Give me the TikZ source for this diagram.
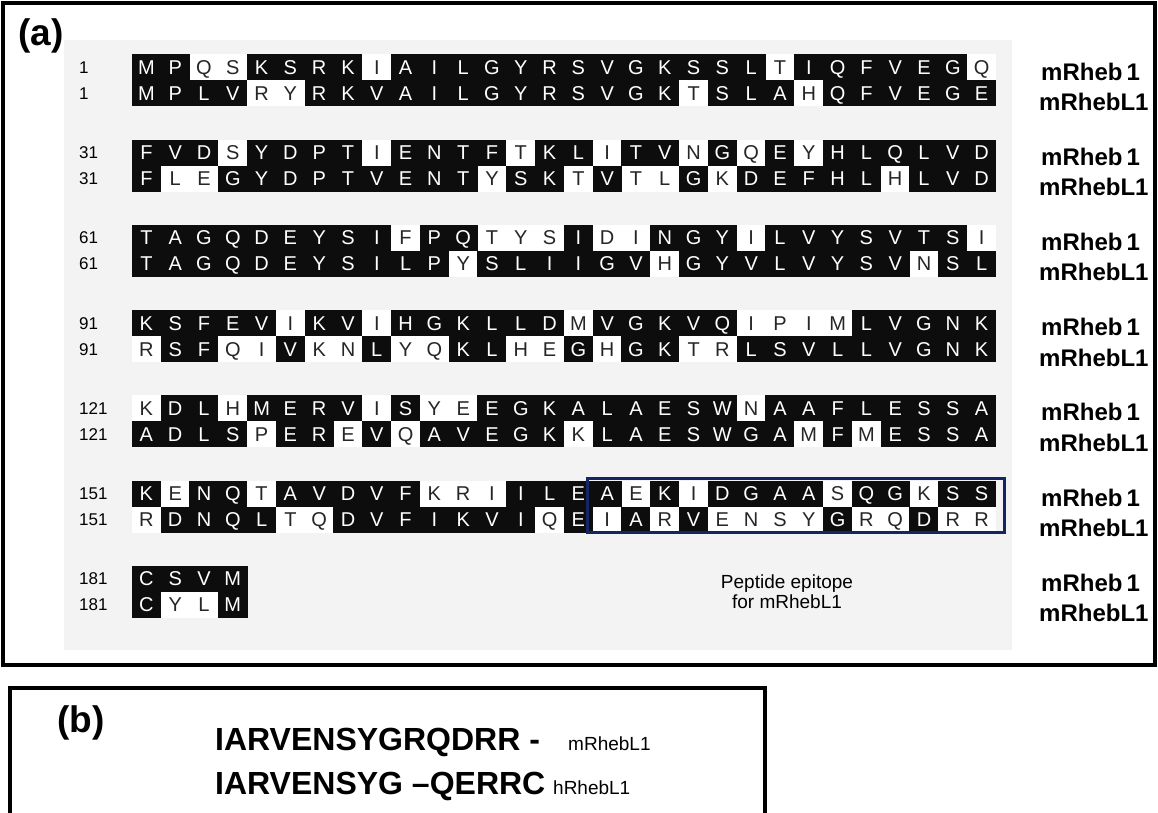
\documentclass[tikz,border=0pt]{standalone}
\usepackage{fontspec}
\setmainfont{Liberation Sans}
\usetikzlibrary{positioning}
\definecolor{epiblue}{RGB}{18,38,100}
\definecolor{scan}{RGB}{243,243,243}

% one line of the alignment at height #1, residues in #2 (lower case = not shaded)
\newcommand{\seqline}[2]{%
  \foreach \ch [count=\idx] in {#2} {%
    \expandafter\ifnum\expandafter`\ch<97
      \fill[black!95] ({132+(\idx-1)*28.8-0.3},{#1-13}) rectangle ++(29.4,26);
      \node[res,white] at ({132+(\idx-0.5)*28.8},#1) {\ch};
    \else
      \fill[white] ({132+(\idx-1)*28.8},{#1-13}) rectangle ++(28.8,26);
      \node[res,black!85] at ({132+(\idx-0.5)*28.8},#1) {\uppercase\expandafter{\ch}};
    \fi
  }}

\begin{document}
\begin{tikzpicture}[x=1pt,y=-1pt,
  res/.style={inner sep=0pt,text height=14pt,text depth=0pt,font=\fontsize{20}{20}\selectfont},
  num/.style={anchor=west,inner sep=0pt,text height=12pt,text depth=0pt,font=\fontsize{17}{17}\selectfont},
  seqname/.style={anchor=west,inner sep=0pt,font=\fontsize{24}{24}\selectfont\bfseries},
  panel/.style={font=\fontsize{37}{37}\selectfont\bfseries,inner sep=0pt},
  pep/.style={font=\fontsize{32}{32}\selectfont\bfseries,anchor=west,inner sep=0pt},
  pepname/.style={font=\fontsize{19}{19}\selectfont,anchor=west,inner sep=0pt}]
\useasboundingbox (0,0) rectangle (1158,813);
\fill[white] (0,0) rectangle (1158,813);

% panel (a)
\draw[line width=4pt] (3,3) rectangle (1155,665);
\fill[scan] (64,40) rectangle (1012,650);
\node[panel] (pa) at (41,36) {(a)};

\seqline{67.5}{M,P,q,s,K,S,R,K,i,A,I,L,G,Y,R,S,V,G,K,S,S,L,t,I,Q,F,V,E,G,q}
\seqline{93.5}{M,P,L,V,r,y,R,K,V,A,I,L,G,Y,R,S,V,G,K,t,S,L,A,h,Q,F,V,E,G,E}
\seqline{152.7}{F,V,D,s,Y,D,P,T,i,E,N,T,F,t,K,L,i,T,V,n,G,q,E,y,H,L,Q,L,V,D}
\seqline{178.7}{F,l,e,G,Y,D,P,T,V,E,N,T,y,S,K,t,V,t,l,G,k,D,E,F,H,L,h,L,V,D}
\seqline{237.9}{T,A,G,Q,D,E,Y,S,I,f,P,Q,t,y,s,I,d,i,N,G,Y,i,L,V,Y,S,V,T,S,i}
\seqline{263.9}{T,A,G,Q,D,E,Y,S,I,L,P,y,S,L,I,I,G,V,h,G,Y,V,L,V,Y,S,V,n,S,L}
\seqline{323.1}{K,S,F,E,V,i,K,V,i,H,G,K,L,L,D,m,V,G,K,V,Q,i,p,i,m,L,V,G,N,K}
\seqline{349.1}{r,S,F,q,i,V,k,n,L,y,q,K,L,h,e,G,h,G,K,t,r,L,S,V,L,L,V,G,N,K}
\seqline{408.3}{k,D,L,h,M,E,R,V,i,S,y,e,E,G,K,A,L,A,E,S,W,n,A,A,F,L,E,S,S,A}
\seqline{434.3}{A,D,L,S,p,E,R,e,V,q,A,V,E,G,K,k,L,A,E,S,W,G,A,m,F,m,E,S,S,A}
\seqline{493.5}{K,e,N,Q,t,A,V,D,V,F,k,r,i,I,L,E,A,e,K,i,D,G,A,A,s,Q,G,k,S,S}
\seqline{519.5}{r,D,N,Q,L,t,q,D,V,F,I,K,V,I,q,E,i,A,r,V,e,n,s,y,G,r,q,D,r,r}
\seqline{578.7}{C,S,V,M}
\seqline{604.7}{C,y,l,M}

\foreach \n/\k in {1/0,31/1,61/2,91/3,121/4,151/5,181/6} {
  \node[num] (na\k) at (79,{67.5+85.2*\k}) {\n};
  \node[num] (nb\k) at (79,{93.5+85.2*\k}) {\n};
  \node[seqname] (la\k) at (1041,{71.5+85.2*\k}) {mRheb\,1};
  \node[seqname] (lb\k) at (1039,{102+85.2*\k}) {mRhebL1};
}

% epitope box
\draw[epiblue,line width=3pt] (587,478) rectangle (1004,532);
\node[font=\fontsize{19}{19}\selectfont,align=center,inner sep=0pt] (epi) at (787,592)
  {Peptide epitope\\[1pt]for mRhebL1};

% panel (b)
\draw[line width=3.2pt] (10,820) -- (10,688) -- (765,688) -- (765,820);
\node[panel] (pb) at (81,723) {(b)};
\node[pep] (s1) at (215,742) {IARVENSYGRQDRR -};
\node[pepname] (m1) at (568,744) {mRhebL1};
\node[pep] (s2) at (215,786) {IARVENSYG –QERRC};
\node[pepname] (m2) at (553,788) {hRhebL1};
\end{tikzpicture}
\end{document}
